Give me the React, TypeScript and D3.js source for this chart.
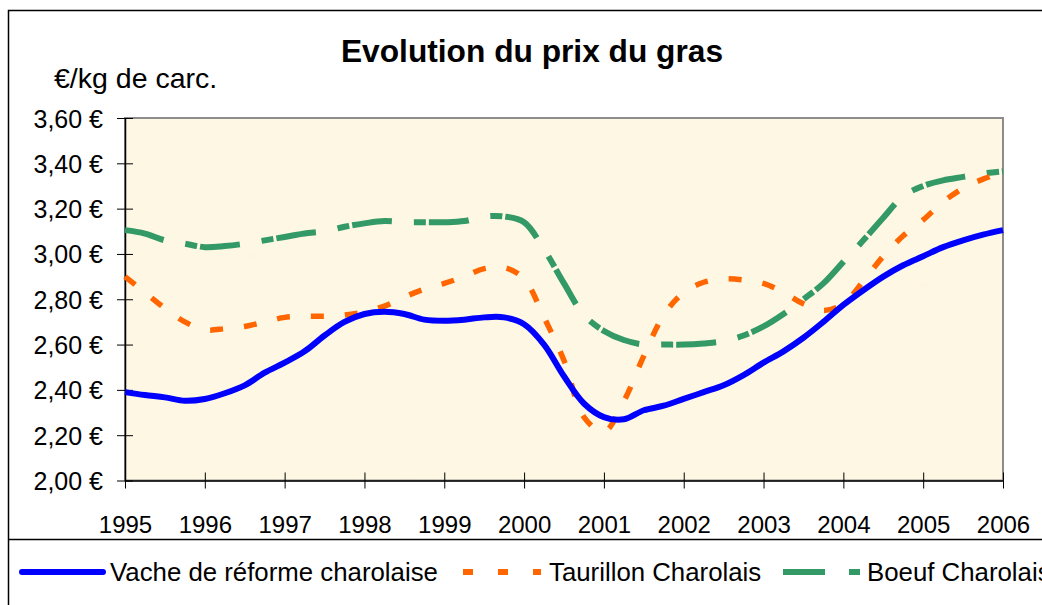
import React, { useEffect, useRef } from 'react';
import * as d3 from 'd3';

// quarterly positions
const quarters = [
  1995, 1995.25, 1995.5, 1995.75, 1996, 1996.25, 1996.5, 1996.75,
  1997, 1997.25, 1997.5, 1997.75, 1998, 1998.25, 1998.5, 1998.75,
  1999, 1999.25, 1999.5, 1999.75, 2000, 2000.25, 2000.5, 2000.75,
  2001, 2001.25, 2001.5, 2001.75, 2002, 2002.25, 2002.5, 2002.75,
  2003, 2003.25, 2003.5, 2003.75, 2004, 2004.25, 2004.5, 2004.75,
  2005, 2005.25, 2005.5, 2005.75, 2006,
];

const vache = [
  2.39, 2.377, 2.367, 2.352, 2.36, 2.385, 2.42, 2.476,
  2.52, 2.57, 2.64, 2.70, 2.735, 2.745, 2.735, 2.71,
  2.705, 2.71, 2.72, 2.72, 2.69, 2.6, 2.46, 2.34,
  2.28, 2.27, 2.31, 2.33, 2.36, 2.39, 2.42, 2.465,
  2.52, 2.57, 2.63, 2.7, 2.775, 2.84, 2.9, 2.95,
  2.99, 3.03, 3.06, 3.085, 3.105,
];

const taurillon = [
  2.9, 2.83, 2.76, 2.7, 2.665, 2.67, 2.68, 2.7,
  2.72, 2.725, 2.725, 2.73, 2.745, 2.77, 2.81, 2.845,
  2.87, 2.9, 2.935, 2.94, 2.89, 2.72, 2.53, 2.28,
  2.215, 2.35, 2.55, 2.73, 2.83, 2.875, 2.89, 2.885,
  2.87, 2.83, 2.78, 2.75, 2.78, 2.88, 2.99, 3.08,
  3.15, 3.23, 3.29, 3.33, 3.36,
];

const boeuf = [
  3.105, 3.09, 3.06, 3.045, 3.03, 3.035, 3.045, 3.06,
  3.075, 3.09, 3.1, 3.12, 3.135, 3.145, 3.14, 3.14,
  3.14, 3.145, 3.165, 3.165, 3.14, 3.02, 2.87, 2.73,
  2.66, 2.62, 2.6, 2.6, 2.6, 2.605, 2.615, 2.64,
  2.68, 2.735, 2.8, 2.87, 2.965, 3.06, 3.16, 3.255,
  3.3, 3.325, 3.34, 3.355, 3.365,
];

const yearTicks = [1995, 1996, 1997, 1998, 1999, 2000, 2001, 2002, 2003, 2004, 2005, 2006];
const priceTicks = [2.0, 2.2, 2.4, 2.6, 2.8, 3.0, 3.2, 3.4, 3.6];

const series = [
  { name: 'Vache de réforme charolaise', values: vache, color: '#0000FF', dash: null, width: 6 },
  { name: 'Taurillon Charolais', values: taurillon, color: '#FF6600', dash: '13 21', width: 5.5 },
  { name: 'Boeuf Charolais', values: boeuf, color: '#339966', dash: '40 22 12 3', width: 6 },
];

const FONT = 'Arial, "Liberation Sans", sans-serif';

export default function App() {
  const ref = useRef(null);

  useEffect(() => {
    const svg = d3.select(ref.current);
    svg.selectAll('*').remove();

    const plot = { left: 125, right: 1003, top: 118, bottom: 480.5 };

    const x = d3.scaleLinear().domain([1995, 2006]).range([plot.left, plot.right]);
    const y = d3.scaleLinear().domain([2.0, 3.6]).range([plot.bottom, plot.top]);

    // chart frame
    svg.append('rect')
      .attr('x', 0).attr('y', 0).attr('width', 1042).attr('height', 605)
      .attr('fill', '#fff');
    svg.append('rect')
      .attr('x', 8.5).attr('y', 10.5).attr('width', 1060).attr('height', 620)
      .attr('fill', 'none').attr('stroke', '#000').attr('stroke-width', 1.5);

    // parchment texture
    const defs = svg.append('defs');
    const filter = defs.append('filter').attr('id', 'paper')
      .attr('x', 0).attr('y', 0).attr('width', '100%').attr('height', '100%');
    filter.append('feTurbulence')
      .attr('type', 'fractalNoise').attr('baseFrequency', 0.03).attr('numOctaves', 3).attr('seed', 4);
    filter.append('feColorMatrix')
      .attr('values', '0 0 0 0 0.98  0 0 0 0 0.90  0 0 0 0 0.76  0 0 0 0.22 -0.04');

    svg.append('rect')
      .attr('x', plot.left).attr('y', plot.top)
      .attr('width', plot.right - plot.left).attr('height', plot.bottom - plot.top)
      .attr('fill', '#FEF7E3');
    svg.append('rect')
      .attr('x', plot.left).attr('y', plot.top)
      .attr('width', plot.right - plot.left).attr('height', plot.bottom - plot.top)
      .attr('filter', 'url(#paper)');
    svg.append('rect')
      .attr('x', plot.left).attr('y', plot.top)
      .attr('width', plot.right - plot.left).attr('height', plot.bottom - plot.top)
      .attr('fill', 'none').attr('stroke', '#8c8c8c').attr('stroke-width', 2);

    // axes with crossing ticks
    const yAxis = svg.append('g').attr('transform', `translate(${plot.left},0)`)
      .call(d3.axisLeft(y).tickValues(priceTicks).tickSize(8).tickSizeOuter(0)
        .tickFormat(d => d3.format('.2f')(d).replace('.', ',') + ' €'));
    yAxis.select('.domain').attr('stroke', '#000').attr('stroke-width', 1.5);
    yAxis.selectAll('.tick line').attr('x2', -8).clone().attr('x2', 8);
    yAxis.selectAll('.tick text')
      .attr('x', -22).attr('dy', '0.36em')
      .style('font-family', FONT).style('font-size', '25px').attr('fill', '#000');

    const xAxis = svg.append('g').attr('transform', `translate(0,${plot.bottom})`)
      .call(d3.axisBottom(x).tickValues(yearTicks).tickSize(8).tickSizeOuter(0)
        .tickFormat(d3.format('d')));
    xAxis.select('.domain').attr('stroke', '#000').attr('stroke-width', 1.5);
    xAxis.selectAll('.tick line').attr('y2', 8).clone().attr('y2', -8);
    xAxis.selectAll('.tick text')
      .attr('y', 35).attr('dy', '0.71em')
      .style('font-family', FONT).style('font-size', '24px').attr('fill', '#000');
    svg.selectAll('.domain').attr('fill', 'none');

    // lines
    const line = d3.line()
      .x((_, i) => x(quarters[i]))
      .y(d => y(d))
      .curve(d3.curveCatmullRom.alpha(0.5));

    series.slice().reverse().forEach(s => {
      svg.append('path')
        .datum(s.values)
        .attr('d', line)
        .attr('fill', 'none')
        .attr('stroke', s.color)
        .attr('stroke-width', s.width)
        .attr('stroke-dasharray', s.dash)
        .attr('stroke-linejoin', 'round');
    });

    // titles
    svg.append('text')
      .attr('x', 532).attr('y', 62).attr('text-anchor', 'middle')
      .style('font-family', FONT).style('font-size', '31.7px').style('font-weight', 'bold')
      .text('Evolution du prix du gras');
    svg.append('text')
      .attr('x', 54).attr('y', 88)
      .style('font-family', FONT).style('font-size', '28.5px')
      .text('€/kg de carc.');

    // legend box
    svg.append('line')
      .attr('x1', 8.5).attr('x2', 1042).attr('y1', 539.5).attr('y2', 539.5)
      .attr('stroke', '#000').attr('stroke-width', 1.5);

    const legendX = [
      { x1: 22, x2: 103, tx: 110 },
      { x1: 463, x2: 541, tx: 549 },
      { x1: 783, x2: 860, tx: 867 },
    ];
    const ly = 572;
    series.forEach((s, i) => {
      const p = legendX[i];
      svg.append('line')
        .attr('x1', p.x1).attr('x2', p.x2).attr('y1', ly).attr('y2', ly)
        .attr('stroke', s.color).attr('stroke-width', 6)
        .attr('stroke-linecap', s.dash ? 'butt' : 'round')
        .attr('stroke-dasharray', s.dash ? (i === 1 ? '10 25' : '42 24 11 3') : null);
      svg.append('text')
        .attr('x', p.tx).attr('y', ly).attr('dy', '0.36em')
        .style('font-family', FONT).style('font-size', '25.8px')
        .text(s.name);
    });
  }, []);

  return (
    <svg ref={ref} width={1042} height={605}
      style={{ position: 'absolute', left: 0, top: 0, display: 'block' }} />
  );
}
